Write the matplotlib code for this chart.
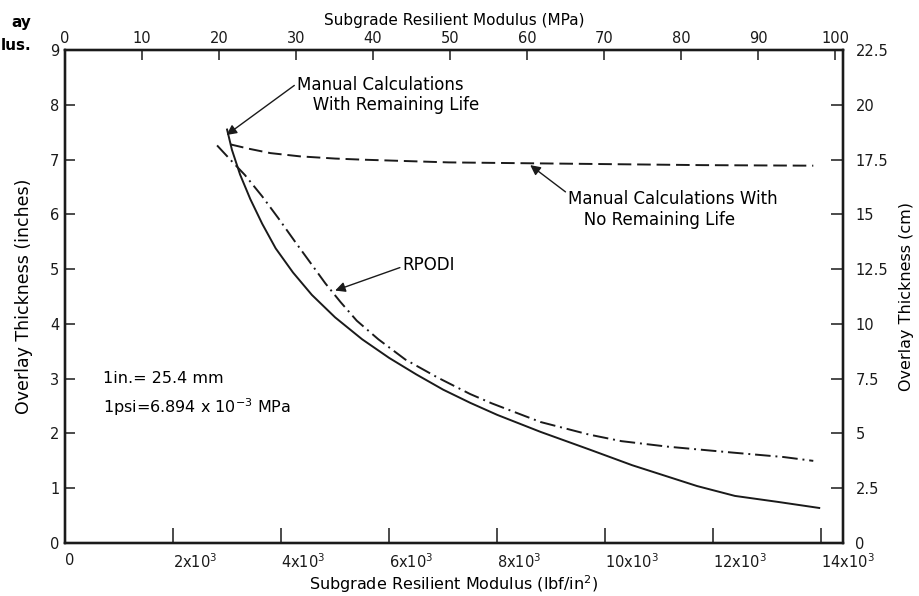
import numpy as np
import matplotlib
matplotlib.use('Agg')
from matplotlib import pyplot as plt

# values (psi, inches)
with_life_x = [3000, 3090, 3240, 3430, 3650, 3900, 4220, 4570, 5000, 5500, 6000,
               6500, 7000, 7500, 8000, 8800, 9700, 10500, 11700, 12400, 13200, 13960]
with_life_y = [7.55, 7.18, 6.73, 6.28, 5.83, 5.38, 4.94, 4.53, 4.12, 3.72, 3.38,
               3.08, 2.80, 2.56, 2.34, 2.03, 1.71, 1.42, 1.04, 0.86, 0.75, 0.64]

rpodi_x = [2815, 3060, 3330, 3650, 3950, 4260, 4570, 4820, 5100, 5400, 5800,
           6300, 6900, 7500, 7900, 8800, 9700, 10300, 11150, 12370, 13300, 13850]
rpodi_y = [7.26, 7.00, 6.72, 6.33, 5.93, 5.50, 5.08, 4.74, 4.40, 4.06, 3.72,
           3.35, 3.02, 2.72, 2.55, 2.21, 1.98, 1.86, 1.76, 1.65, 1.57, 1.50]

no_life_x = [3056, 3400, 3800, 4350, 5000, 5500, 7100, 9900, 11800, 13850]
no_life_y = [7.28, 7.20, 7.12, 7.06, 7.02, 7.00, 6.95, 6.92, 6.90, 6.89]

psi_ticks = [0, 2000, 4000, 6000, 8000, 10000, 12000, 14000]
psi_labels = ['0', r'2x10$^3$', r'4x10$^3$', r'6x10$^3$', r'8x10$^3$',
              r'10x10$^3$', r'12x10$^3$', r'14x10$^3$']
mpa_ticks = [0, 10, 20, 30, 40, 50, 60, 70, 80, 90, 100]
in_ticks = [0, 1, 2, 3, 4, 5, 6, 7, 8, 9]
cm_ticks = [0, 2.5, 5, 7.5, 10, 12.5, 15, 17.5, 20, 22.5]
cm_labels = ['0', '2.5', '5', '7.5', '10', '12.5', '15', '17.5', '20', '22.5']

plt.rcParams['font.family'] = 'DejaVu Sans'
ink = '#1a1a1a'

fig = plt.figure(figsize=(9.19, 5.96), dpi=100)
ax = fig.add_axes([0.0707, 0.0889, 0.8466, 0.827])

ax.plot(with_life_x, with_life_y, color=ink, lw=1.4, ls='-')
ax.plot(rpodi_x, rpodi_y, color=ink, lw=1.4, ls=(0, (8, 2.5, 1, 2.5)))
ax.plot(no_life_x, no_life_y, color=ink, lw=1.4, ls=(0, (7, 3)))

ax.set_xlim(0, 14400)
ax.set_ylim(0, 9)
ax.set_xticks(psi_ticks)
ax.set_xticklabels(psi_labels, ha='left', fontsize=10.5)
ax.set_yticks(in_ticks)
ax.set_yticklabels([str(v) for v in in_ticks], fontsize=10.5)
ax.tick_params(axis='x', direction='in', length=11, width=1.1, pad=7, colors=ink)
ax.tick_params(axis='y', direction='in', length=7, width=1.1, pad=4, colors=ink)
for s in ax.spines.values():
    s.set_linewidth(1.6)
    s.set_color(ink)
ax.set_xlabel('Subgrade Resilient Modulus (lbf/in$^2$)', fontsize=11.5, labelpad=1)
ax.set_ylabel('Overlay Thickness (inches)', fontsize=12.5, labelpad=12)

ax_r = ax.twinx()
ax_r.set_ylim(0, 22.5)
ax_r.set_yticks(cm_ticks)
ax_r.set_yticklabels(cm_labels, fontsize=10.5)
ax_r.tick_params(axis='y', direction='in', length=9, width=1.1, pad=9, colors=ink)
ax_r.set_ylabel('Overlay Thickness (cm)', fontsize=11.5, labelpad=8)

ax_t = ax.twiny()
ax_t.set_xlim(0, 101)
ax_t.set_xticks(mpa_ticks)
ax_t.set_xticklabels([str(v) for v in mpa_ticks], fontsize=10.5)
ax_t.tick_params(axis='x', direction='in', length=7, width=1.1, pad=3, colors=ink)
ax_t.set_xlabel('Subgrade Resilient Modulus (MPa)', fontsize=11, labelpad=4)
for a in (ax_r, ax_t):
    for s in a.spines.values():
        s.set_linewidth(1.6)
        s.set_color(ink)

def arrow(rel):
    return dict(arrowstyle='-|>', color=ink, lw=1.0, mutation_scale=15,
                shrinkA=0, shrinkB=0, relpos=rel)

ax.annotate('Manual Calculations\n   With Remaining Life',
            xy=(2990, 7.45), xytext=(4296, 8.18),
            fontsize=12, ha='left', va='center', arrowprops=arrow((0, 0.8)))
ax.annotate('RPODI', xy=(5000, 4.61), xytext=(6250, 5.08),
            fontsize=12, ha='left', va='center', arrowprops=arrow((0, 0.4)))
ax.annotate('Manual Calculations With\n   No Remaining Life',
            xy=(8611, 6.9), xytext=(9315, 6.09),
            fontsize=12, ha='left', va='center', arrowprops=arrow((0, 0.9)))

ax.text(700, 3.0, '1in.= 25.4 mm', fontsize=11.5, ha='left', va='center')
ax.text(700, 2.48, r'1psi=6.894 x 10$^{-3}$ MPa', fontsize=11.5, ha='left', va='center')

fig.text(31 / 919, 1 - 22 / 596, 'ay', fontsize=11, fontweight='bold', ha='right', va='center')
fig.text(31 / 919, 1 - 45 / 596, 'lus.', fontsize=11, fontweight='bold', ha='right', va='center')

fig.savefig('out.png', dpi=100)
